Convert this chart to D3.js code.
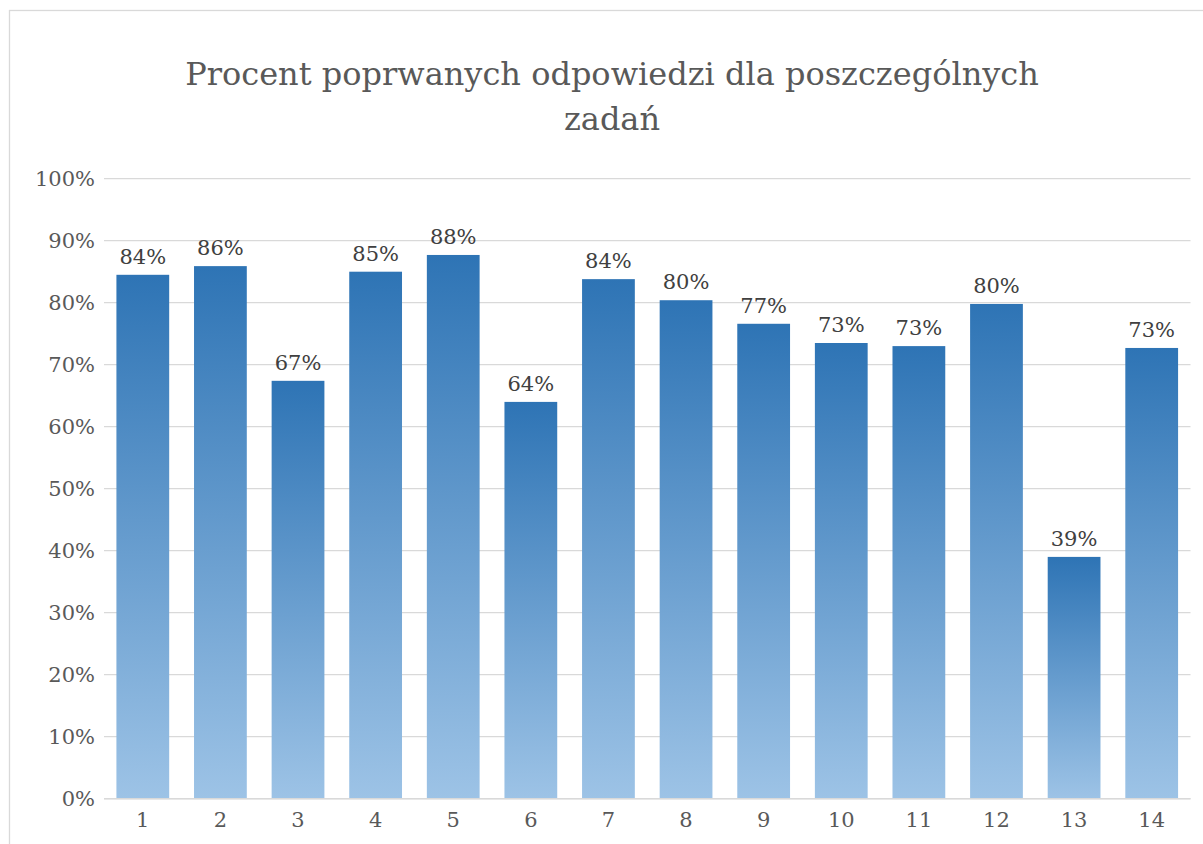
<!DOCTYPE html>
<html>
<head>
    <meta charset="utf-8">
    <style>
        body { margin: 0; background: white; }
        svg { display: block; }
        .title { font-family: 'DejaVu Serif', serif; fill: #595959; }
        .tick text { font-family: 'DejaVu Serif', serif; fill: #595959; }
        .label { font-family: 'DejaVu Serif', serif; fill: #404040; }
    </style>
</head>
<body>
<svg width="1203" height="844"></svg>

<script src="https://d3js.org/d3.v7.min.js"></script>
<script>
    // data
    let zadania = ["1", "2", "3", "4", "5", "6", "7", "8", "9", "10", "11", "12", "13", "14"]
    let procent = [0.845, 0.859, 0.674, 0.850, 0.877, 0.640, 0.838, 0.804, 0.766, 0.735, 0.730, 0.798, 0.390, 0.727]
    let etykiety = ["84%", "86%", "67%", "85%", "88%", "64%", "84%", "80%", "77%", "73%", "73%", "80%", "39%", "73%"]
    let yTicks = [0, 0.1, 0.2, 0.3, 0.4, 0.5, 0.6, 0.7, 0.8, 0.9, 1]
    let tytul = ["Procent poprwanych odpowiedzi dla poszczególnych", "zadań"]

    let svg = d3.select("svg")

    let margin = { top: 178.7, right: 12.5, bottom: 45.3, left: 104 }
    let width = 1203
    let height = 844

    // chart frame
    svg.append("rect")
        .attr("x", 9.5)
        .attr("y", 10.5)
        .attr("width", 1250)
        .attr("height", 900)
        .style("fill", "white")
        .style("stroke", "#d9d9d9")
        .style("stroke-width", 1.3)

    let defs = svg.append("defs")
    let grad = defs.append("linearGradient")
        .attr("id", "barGrad")
        .attr("x1", 0).attr("y1", 0)
        .attr("x2", 0).attr("y2", 1)
    grad.append("stop").attr("offset", "0%").attr("stop-color", "#2e74b5")
    grad.append("stop").attr("offset", "100%").attr("stop-color", "#9dc3e6")

    let x = d3.scaleBand()
        .domain(zadania)
        .range([margin.left, width - margin.right])
        .paddingInner(0.32)
        .paddingOuter(0.16)

    let y = d3.scaleLinear()
        .domain([0, 1])
        .range([height - margin.bottom, margin.top])

    // gridlines
    svg.append("g")
        .selectAll("line")
        .data(yTicks)
        .join("line")
        .attr("x1", margin.left)
        .attr("x2", width - margin.right)
        .attr("y1", d => y(d))
        .attr("y2", d => y(d))
        .style("stroke", "#d9d9d9")
        .style("stroke-width", 1.3)

    // y axis
    let yAxis = svg.append("g")
        .attr("transform", "translate(" + margin.left + ",0)")
        .call(d3.axisLeft(y).tickValues(yTicks).tickFormat(d3.format(".0%")).tickSize(0).tickPadding(9))
    yAxis.select(".domain").remove()
    yAxis.selectAll("text").style("font-size", "21px")

    // bars
    svg.append("g")
        .selectAll("rect")
        .data(procent)
        .join("rect")
        .attr("x", (d, i) => x(zadania[i]))
        .attr("y", d => y(d))
        .attr("width", x.bandwidth())
        .attr("height", d => y(0) - y(d))
        .style("fill", "url(#barGrad)")

    // baseline on top of bars
    svg.append("line")
        .attr("x1", margin.left)
        .attr("x2", width - margin.right)
        .attr("y1", y(0))
        .attr("y2", y(0))
        .style("stroke", "#d9d9d9")
        .style("stroke-width", 1.5)

    // x axis
    let xAxis = svg.append("g")
        .attr("transform", "translate(0," + y(0) + ")")
        .call(d3.axisBottom(x).tickSize(0).tickPadding(13))
    xAxis.select(".domain").remove()
    xAxis.selectAll("text").style("font-size", "21px")

    // data labels
    svg.append("g")
        .selectAll("text")
        .data(procent)
        .join("text")
        .attr("class", "label")
        .attr("x", (d, i) => x(zadania[i]) + x.bandwidth() / 2)
        .attr("y", d => y(d) - 11)
        .attr("text-anchor", "middle")
        .style("font-size", "21px")
        .text((d, i) => etykiety[i])

    // title
    svg.append("text")
        .attr("class", "title")
        .attr("text-anchor", "middle")
        .style("font-size", "32px")
        .selectAll("tspan")
        .data(tytul)
        .join("tspan")
        .attr("x", 612)
        .attr("y", (d, i) => 85 + i * 45)
        .text(d => d)
</script>
</body>
</html>
